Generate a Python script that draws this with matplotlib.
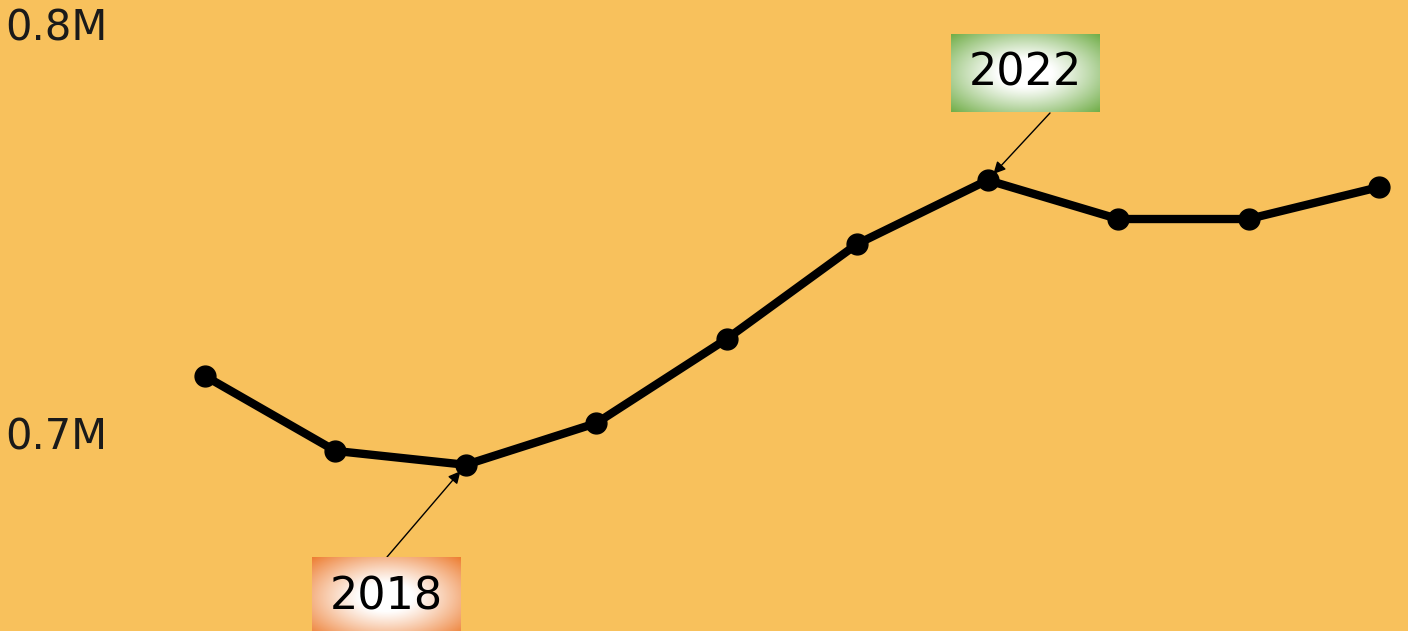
import numpy as np
import matplotlib.pyplot as plt

# values
years = [2016, 2017, 2018, 2019, 2020, 2021, 2022, 2023, 2024, 2025]
values = [0.7149, 0.6966, 0.6932, 0.7034, 0.7240, 0.7472, 0.7628, 0.7533, 0.7533, 0.7611]
tick_vals = [0.7, 0.8]
tick_labels = ["0.7M", "0.8M"]

BG = "#F8C15C"
W, H = 1408, 631

fig = plt.figure(figsize=(W / 100, H / 100), dpi=100, facecolor=BG)
ax = fig.add_axes([0, 0, 1, 1])
ax.set_facecolor(BG)
ax.axis("off")

x = np.arange(len(years))
ax.plot(x, values, color="black", lw=6, marker="o", ms=15, zorder=3)

# axis limits chosen so pixels line up with the reference
ax.set_xlim(-1.5716, 9.2223)
ax.set_ylim(0.65257, 0.80685)

for v, lab in zip(tick_vals, tick_labels):
    ax.text(0.004, v, lab, transform=ax.get_yaxis_transform(),
            ha="left", va="center", fontsize=30, color="#1a1a1a")


def grad_box(rect, edge_rgb, label):
    bx = fig.add_axes(rect)
    bx.axis("off")
    n = 200
    yy, xx = np.mgrid[-1:1:n * 1j, -1:1:n * 1j]
    r = np.sqrt(xx ** 2 + yy ** 2) / np.sqrt(2)
    t = np.clip((r - 0.25) / 0.75, 0, 1) ** 1.1
    edge = np.array(edge_rgb) / 255.0
    img = (1 - t[..., None]) * np.ones(3) + t[..., None] * edge
    bx.imshow(img, extent=[0, 1, 0, 1], aspect="auto")
    bx.set_xlim(0, 1)
    bx.set_ylim(0, 1)
    bx.text(0.5, 0.5, label, ha="center", va="center", fontsize=32, color="black")


# annotation arrows
ax.annotate("", xy=(x[6], values[6]), xytext=(1050, H - 113), textcoords="figure pixels",
            arrowprops=dict(arrowstyle="-|>", color="black", lw=1, shrinkA=0, shrinkB=6,
                            mutation_scale=18))
ax.annotate("", xy=(x[2], values[2]), xytext=(387, H - 557), textcoords="figure pixels",
            arrowprops=dict(arrowstyle="-|>", color="black", lw=1, shrinkA=0, shrinkB=6,
                            mutation_scale=18))

grad_box([951 / W, 1 - 112 / H, 149 / W, 78 / H], (112, 173, 71), "2022")
grad_box([312 / W, -6 / H, 149 / W, 80 / H], (237, 125, 49), "2018")

fig.savefig("out.png", dpi=100, facecolor=BG)
